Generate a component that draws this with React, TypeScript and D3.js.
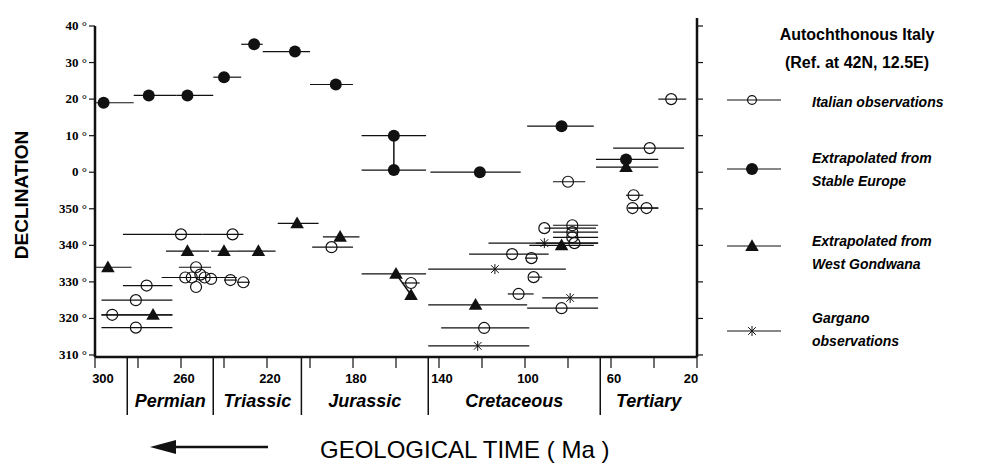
import * as d3 from 'd3';

type Obs = { age: number; dec: number; from: number; to: number };
const o = (age: number, dec: number, from: number, to: number): Obs => ({ age, dec, from, to });

// declinations in degrees (0-40 wrap above 360)
const italian: Obs[] = [
  o(292, 321, 297, 264), o(281, 325, 297, 264), o(281, 317.5, 297, 264), o(276, 329, 287, 264),
  o(260, 343, 287, 250), o(236, 343, 250, 231), o(253, 334, 261, 246),
  o(258, 331.2, 269, 234), o(255, 331.2, 255, 255), o(253, 328.6, 253, 253), o(251, 332, 251, 251),
  o(249, 331.2, 249, 249), o(246, 330.8, 246, 246), o(237, 330.5, 240, 234), o(231, 329.9, 234, 228),
  o(190, 339.5, 199, 180), o(153, 329.7, 157, 149), o(119, 317.4, 139, 98), o(103, 326.7, 108, 96),
  o(96, 331.3, 98, 92), o(106, 337.6, 126, 89), o(97, 336.5, 100, 94), o(91, 344.7, 91, 67),
  o(78, 345.5, 87, 66), o(78, 343.6, 87, 66), o(78, 342.2, 87, 66), o(77, 340.6, 95, 66),
  o(83, 322.8, 99, 66), o(80, 357.4, 87, 72), o(49.5, 353.7, 53, 45), o(50, 350.2, 52, 38),
  o(43.5, 350.2, 52, 38), o(42, 6.6, 59, 26), o(32, 20, 38, 25),
];
const stableEurope: Obs[] = [
  o(296, 19, 300, 282), o(275, 21, 282, 262), o(257, 21, 262, 245), o(240, 26, 245, 232),
  o(226, 35, 232, 222), o(207, 33, 222, 200), o(188, 24, 200, 180), o(161, 10, 176, 146),
  o(161, 0.6, 176, 146), o(121, 0, 144, 102), o(83, 12.6, 99, 68), o(53, 3.5, 67, 38),
];
const westGondwana: Obs[] = [
  o(294, 334, 300, 283), o(273, 321, 297, 264), o(257, 338.4, 267, 247), o(240, 338.4, 246, 234),
  o(224, 338.4, 234, 216), o(206, 346, 215, 196), o(186, 342.3, 194, 177), o(160, 332.2, 176, 146),
  o(153, 326.4, 153, 153), o(123, 323.7, 145, 99), o(83, 340, 98, 68), o(53, 1.4, 67, 38),
];
const gargano: Obs[] = [
  o(122, 312.5, 145, 98), o(114, 333.5, 145, 81), o(91, 340.6, 117, 66), o(79, 325.6, 92, 66),
];
const links: [Obs, Obs][] = [
  [stableEurope[7], stableEurope[8]],
  [westGondwana[7], westGondwana[8]],
];
const xTicks = [300, 280, 260, 240, 220, 200, 180, 160, 140, 120, 100, 80, 60, 40, 20];
const xLabels = [300, 260, 220, 180, 140, 100, 60, 20];
const yTicks = [310, 320, 330, 340, 350, 360, 370, 380, 390, 400];
const periodBounds = [285, 245, 204, 145, 65];
const periods = [
  { name: 'Permian', from: 285, to: 245 },
  { name: 'Triassic', from: 245, to: 204 },
  { name: 'Jurassic', from: 204, to: 145 },
  { name: 'Cretaceous', from: 145, to: 65 },
  { name: 'Tertiary', from: 65, to: 20 },
];

const W = 989, H = 469;
const x = d3.scaleLinear().domain([300, 20]).range([95, 697]);
const y = d3.scaleLinear().domain([310, 400]).range([355, 26]);
const wrap = (d: number) => (d < 300 ? d + 360 : d);
const yLabel = (v: number) => `${v >= 360 ? v - 360 : v} °`;
const sans = 'Liberation Sans, Arial, sans-serif';

type Kind = 'open' | 'filled' | 'tri' | 'star';
const Marker = ({ kind, cx, cy, s = 1 }: { kind: Kind; cx: number; cy: number; s?: number }) => {
  if (kind === 'open') return <circle cx={cx} cy={cy} r={5.5 * s} fill="white" fillOpacity={0} stroke="#111" strokeWidth={1.2} />;
  if (kind === 'filled') return <circle cx={cx} cy={cy} r={6 * s} fill="#111" />;
  if (kind === 'tri') {
    const p = d3.symbol(d3.symbolTriangle, 80 * s * s)()!;
    return <path d={p} transform={`translate(${cx},${cy + 1})`} fill="#111" />;
  }
  const p = d3.symbol(d3.symbolTimes, 40 * s * s)()!;
  return (
    <g transform={`translate(${cx},${cy})`} stroke="#111" strokeWidth={1}>
      <path d={p} fill="none" />
      <line x1={0} x2={0} y1={-5 * s} y2={5 * s} />
    </g>
  );
};

const Series = ({ data, kind }: { data: Obs[]; kind: Kind }) => (
  <g>
    {data.map((d, i) => (
      <g key={i}>
        {d.from !== d.to && (
          <line x1={x(d.from)} x2={x(d.to)} y1={y(wrap(d.dec))} y2={y(wrap(d.dec))} stroke="#111" strokeWidth={1.2} />
        )}
        <Marker kind={kind} cx={x(d.age)} cy={y(wrap(d.dec))} />
      </g>
    ))}
  </g>
);

const legend: { kind: Kind; lines: string[]; y: number; ty: number }[] = [
  { kind: 'open', lines: ['Italian observations'], y: 100, ty: 107 },
  { kind: 'filled', lines: ['Extrapolated from', 'Stable Europe'], y: 169, ty: 163 },
  { kind: 'tri', lines: ['Extrapolated from', 'West Gondwana'], y: 246, ty: 246 },
  { kind: 'star', lines: ['Gargano', 'observations'], y: 331, ty: 323 },
];

export default function App() {
  const bottom = 357;
  return (
    <svg width={W} height={H} style={{ position: 'absolute', left: 0, top: 0, background: 'white' }}>
      {/* axes */}
      <line x1={x(300)} x2={x(300)} y1={y(400)} y2={bottom} stroke="#111" strokeWidth={2.5} />
      <line x1={x(20)} x2={x(20)} y1={18} y2={bottom} stroke="#111" strokeWidth={2.5} />
      <line x1={x(300)} x2={x(20)} y1={bottom} y2={bottom} stroke="#111" strokeWidth={2.5} />
      {yTicks.map((t) => (
        <g key={t}>
          <line x1={x(300) - 6} x2={x(300)} y1={y(t)} y2={y(t)} stroke="#111" strokeWidth={1.2} />
          <line x1={x(20)} x2={x(20) + 6} y1={y(t)} y2={y(t)} stroke="#111" strokeWidth={1.2} />
          <text x={x(300) - 8} y={y(t) + 4} textAnchor="end" fontFamily="Liberation Serif, serif" fontWeight="bold" fontSize={13}>
            {yLabel(t)}
          </text>
        </g>
      ))}
      {xTicks.map((t) => (
        <line key={t} x1={x(t)} x2={x(t)} y1={bottom} y2={bottom + 11} stroke="#111" strokeWidth={1.2} />
      ))}
      {xLabels.map((t) => (
        <text key={t} x={x(t) + (t === 300 ? 8 : t === 20 ? -6 : 3)} y={383} textAnchor="middle" fontFamily={sans} fontWeight="bold" fontSize={13}>
          {t}
        </text>
      ))}
      {periodBounds.map((b) => (
        <line key={b} x1={x(b)} x2={x(b)} y1={bottom} y2={415} stroke="#111" strokeWidth={1.5} />
      ))}
      {periods.map((p) => (
        <text key={p.name} x={(x(p.from) + x(p.to)) / 2} y={407} textAnchor="middle" fontFamily={sans} fontStyle="italic" fontWeight="bold" fontSize={18}>
          {p.name}
        </text>
      ))}
      <text transform={`translate(28,195) rotate(-90)`} textAnchor="middle" fontFamily={sans} fontWeight="bold" fontSize={19}>
        DECLINATION
      </text>
      {/* arrow & title */}
      <line x1={170} x2={268} y1={447} y2={447} stroke="#111" strokeWidth={2.5} />
      <path d="M150,447 L176,440 L176,454 Z" fill="#111" />
      <text x={320} y={458} fontFamily={sans} fontSize={24}>GEOLOGICAL TIME ( Ma )</text>

      {/* data */}
      {links.map(([a, b], i) => (
        <line key={i} x1={x(a.age)} x2={x(b.age)} y1={y(wrap(a.dec))} y2={y(wrap(b.dec))} stroke="#111" strokeWidth={1.5} />
      ))}
      <Series data={italian} kind="open" />
      <Series data={stableEurope} kind="filled" />
      <Series data={westGondwana} kind="tri" />
      <Series data={gargano} kind="star" />

      {/* legend */}
      <text x={857} y={40} textAnchor="middle" fontFamily={sans} fontWeight="bold" fontSize={16}>Autochthonous Italy</text>
      <text x={857} y={68} textAnchor="middle" fontFamily={sans} fontWeight="bold" fontSize={16}>(Ref. at 42N, 12.5E)</text>
      {legend.map((l) => (
        <g key={l.lines[0] + l.y}>
          <line x1={727} x2={781} y1={l.y} y2={l.y} stroke="#111" strokeWidth={1.2} />
          <Marker kind={l.kind} cx={752} cy={l.y} s={l.kind === 'open' ? 0.8 : 1} />
          {l.lines.map((s, i) => (
            <text key={i} x={812} y={l.ty + i * 23} fontFamily={sans} fontStyle="italic" fontWeight="bold" fontSize={14}>
              {s}
            </text>
          ))}
        </g>
      ))}
    </svg>
  );
}
